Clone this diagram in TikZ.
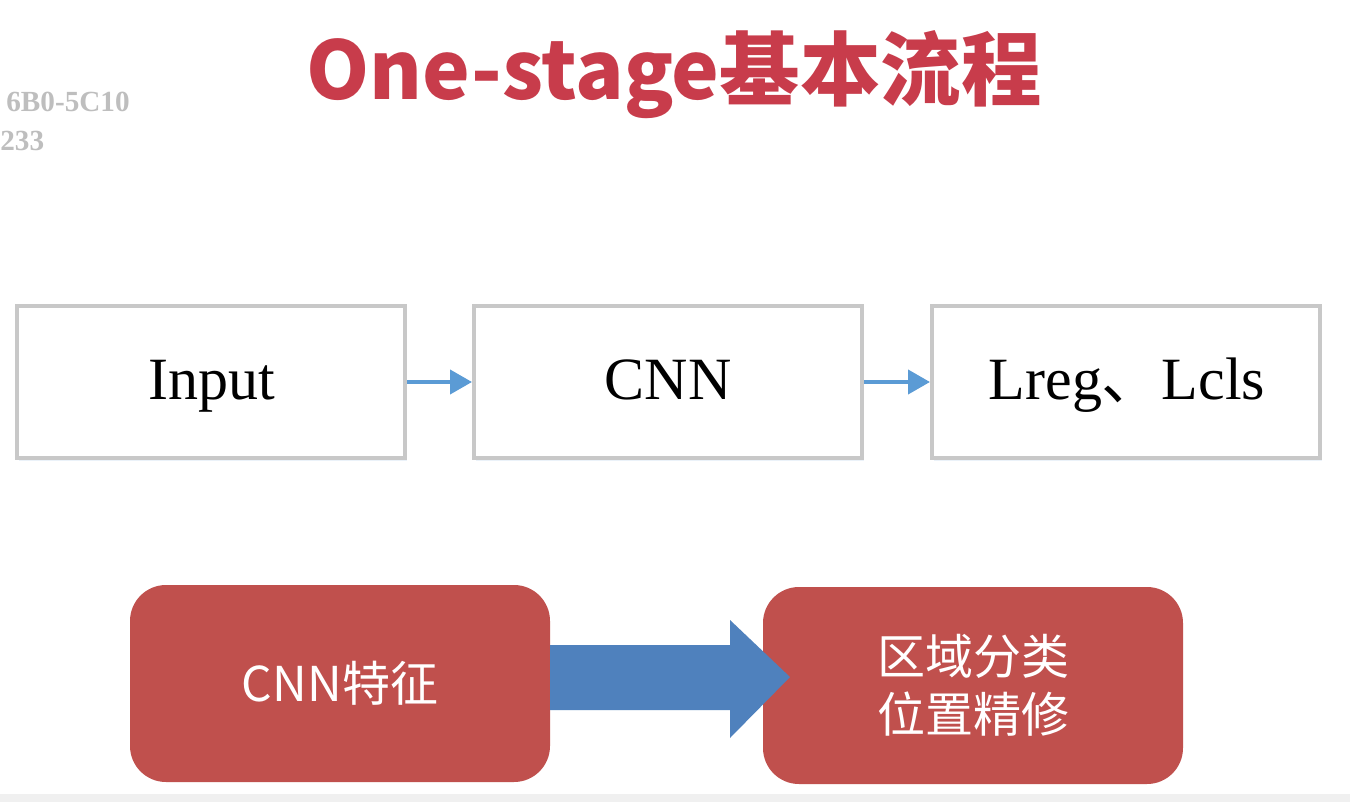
\documentclass[tikz,border=0pt]{standalone}
\usepackage{fontspec}
\setmainfont{Liberation Serif}
\newfontfamily\cjk{Noto Sans CJK SC}
\usetikzlibrary{arrows.meta,shadows}
\definecolor{titlered}{RGB}{200,60,75}
\definecolor{boxgray}{RGB}{200,200,200}
\definecolor{thinblue}{RGB}{91,155,213}
\definecolor{bigblue}{RGB}{79,129,189}
\definecolor{boxred}{RGB}{192,80,77}
\definecolor{wmgray}{RGB}{190,190,190}
\begin{document}
\begin{tikzpicture}[x=0.5pt,y=-0.5pt,
  flowbox/.style={draw=boxgray,line width=2pt,fill=white,minimum width=194pt,minimum height=76pt,inner sep=0pt,
    drop shadow={shadow xshift=1pt,shadow yshift=-1.5pt,opacity=0.12,fill=thinblue}},
  flowtext/.style={font=\fontsize{30}{33}\selectfont,anchor=base,inner sep=0pt},
  thinarrow/.style={draw=thinblue,line width=2pt,-{Triangle[length=11pt,width=12pt]}},
  redbox/.style={fill=boxred,rounded corners=18pt,minimum width=210pt,minimum height=98.5pt,inner sep=0pt,
    text=white,font=\cjk\fontsize{24}{29}\selectfont,align=center},
  wmtext/.style={anchor=base west,text=wmgray,font=\bfseries\fontsize{14.6}{17}\selectfont,inner sep=0pt},
]
\useasboundingbox (0,0) rectangle (1350,802);
\fill[white] (0,0) rectangle (1350,802);
\fill[black!6] (0,794) rectangle (1350,802);
% watermark
\node[wmtext] (wm1) at (6,112) {6B0-5C10};
\node[wmtext] (wm2) at (0,151) {233};
% title
\node[text=titlered,font=\cjk\bfseries\fontsize{40.2}{46}\selectfont,inner sep=0pt] (title) at (674,75) {One-stage基本流程};
% top flow
\node[flowbox] (input) at (211,382) {};
\node[flowbox] (cnn) at (668,382) {};
\node[flowbox] (loss) at (1126,382) {};
\node[flowtext] (tinput) at (212,400) {Input};
\node[flowtext] (tcnn) at (668,400) {CNN};
\node[flowtext] (tloss) at (1127,400) {Lreg{\cjk 、}Lcls};
\draw[thinarrow] (input.east) -- (cnn.west);
\draw[thinarrow] (cnn.east) -- (loss.west);
% bottom
\node[redbox] (feat) at (340,683.5) {CNN特征};
\node[redbox] (cls) at (973,685.5) {区域分类\\位置精修};
\coordinate (a0) at (550,645);
\fill[bigblue] (a0) -- (730,645) -- (730,620) -- (790,677) -- (730,738) -- (730,710) -- (550,710) -- cycle;
\end{tikzpicture}
\end{document}
